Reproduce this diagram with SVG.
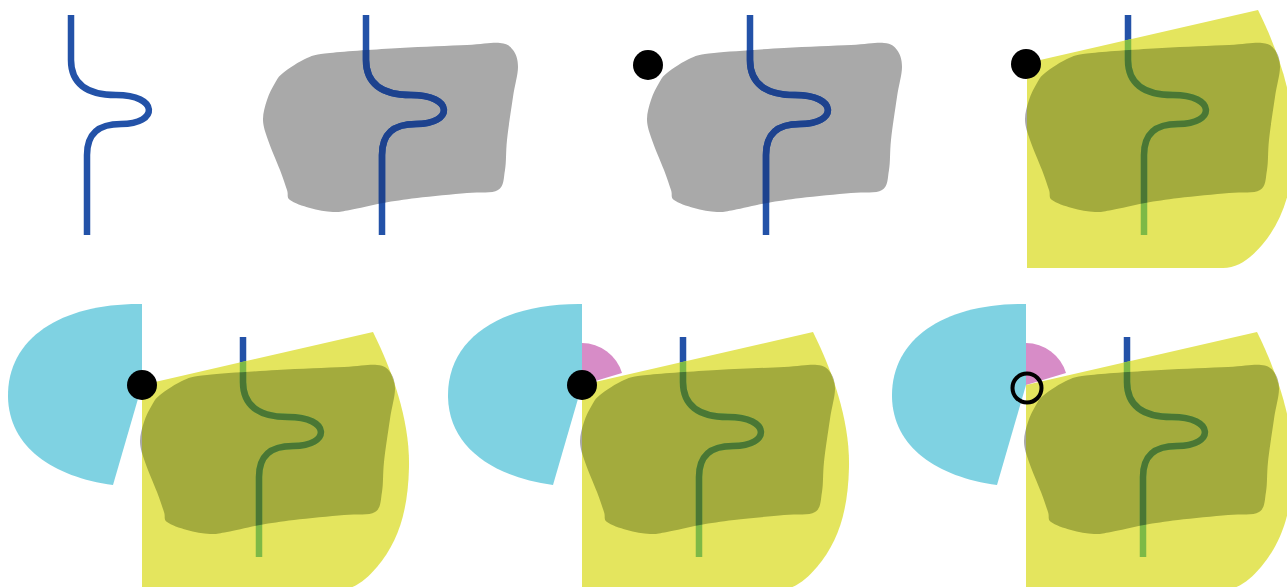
<svg xmlns="http://www.w3.org/2000/svg" xmlns:xlink="http://www.w3.org/1999/xlink" width="1287" height="587" viewBox="0 0 1287 587">
<style>
.line{fill:none;stroke-width:6.5}
.blue{stroke:#2352a8}
.dblue{stroke:#1d428e}
.lgreen{stroke:#7db946}
.dgreen{stroke:#4a7734}
.gray{fill:#a9a9a9}
.olive{fill:#a3ab3d}
.yel{fill:#e4e55e}
.cyan{fill:#7fd2e2}
.pink{fill:#d78cc7}
.dot{fill:#000}
.ring{fill:none;stroke:#000;stroke-width:4}
</style>
<defs>
<path id="ln" d="M0,0 V45 C0,68 15,80 45,80 C88,80 88,109 50,109 C28,109 16,118 16,140 V220"/>
<path id="blob" d="M-91,68 C-88.3,63.5 -88.3,62.2 -83,58 C-77.7,53.8 -66.8,46.3 -59,43 C-51.2,39.7 -51.5,39.7 -36,38 C-20.5,36.3 11.2,34.3 34,33 C56.8,31.7 84.3,30.8 101,30 C117.7,29.2 126.3,27.2 134,28 C141.7,28.8 144,31 147,35 C150,39 152,44.2 152,52 C152,59.8 148.8,69.8 147,82 C145.2,94.2 142.3,112.8 141,125 C139.7,137.2 140.5,146.7 139,155 C137.5,163.3 138.3,171.2 132,175 C125.7,178.8 114.5,176.7 101,178 C87.5,179.3 65,181.3 51,183 C37,184.7 28.2,186 17,188 C5.8,190 -7.7,193.5 -16,195 C-24.3,196.5 -26.3,197.3 -33,197 C-39.7,196.7 -48.8,195 -56,193 C-63.2,191 -72.2,188 -76,185 C-79.8,182 -77.3,180 -79,175 C-80.7,170 -82.8,163.3 -86,155 C-89.2,146.7 -95.2,133.3 -98,125 C-100.8,116.7 -102.8,111.7 -103,105 C-103.2,98.3 -101,91.2 -99,85 C-97,78.8 -93.7,72.5 -91,68 Z"/>
<path id="fov" d="M-101,48 L130,-5 C150,35 167,85 166,130 C165,175 155,205 134,230 C122,244 110,253 95,253 L-101,253 Z"/>
<path id="cyanw" d="M-101,48 L-101,-33 C-180,-34 -236,0 -235,60 C-234,110 -190,140 -130,148 Z"/>
<path id="pinkw" d="M-101,48 L-101,6 A42,42 0 0 1 -61,36 Z"/>
<clipPath id="cBlob"><use xlink:href="#blob"/></clipPath>
<clipPath id="cFov"><use xlink:href="#fov"/></clipPath>
</defs>

<g id="panel1" transform="translate(71,15)">
<use xlink:href="#ln" class="line blue"/>
</g>

<g id="panel2" transform="translate(366,15)">
<use xlink:href="#blob" class="gray"/>
<use xlink:href="#ln" class="line blue"/>
<g clip-path="url(#cBlob)"><use xlink:href="#ln" class="line dblue"/></g>
</g>

<g id="panel3" transform="translate(750,15)">
<use xlink:href="#blob" class="gray"/>
<use xlink:href="#ln" class="line blue"/>
<g clip-path="url(#cBlob)"><use xlink:href="#ln" class="line dblue"/></g>
<circle class="dot" cx="-102" cy="50" r="15"/>
</g>

<g id="panel4" transform="translate(1128,15)">
<use xlink:href="#blob" class="gray"/>
<use xlink:href="#ln" class="line blue"/>
<use xlink:href="#fov" class="yel"/>
<g clip-path="url(#cFov)"><use xlink:href="#blob" class="olive"/><use xlink:href="#ln" class="line lgreen"/></g>
<g clip-path="url(#cFov)"><g clip-path="url(#cBlob)"><use xlink:href="#ln" class="line dgreen"/></g></g>
<circle class="dot" cx="-102" cy="49" r="15"/>
</g>

<g id="panel5" transform="translate(243,337)">
<use xlink:href="#cyanw" class="cyan"/>
<use xlink:href="#blob" class="gray"/>
<use xlink:href="#ln" class="line blue"/>
<use xlink:href="#fov" class="yel"/>
<g clip-path="url(#cFov)"><use xlink:href="#blob" class="olive"/><use xlink:href="#ln" class="line lgreen"/></g>
<g clip-path="url(#cFov)"><g clip-path="url(#cBlob)"><use xlink:href="#ln" class="line dgreen"/></g></g>
<circle class="dot" cx="-101" cy="48" r="15"/>
</g>

<g id="panel6" transform="translate(683,337)">
<use xlink:href="#cyanw" class="cyan"/>
<use xlink:href="#pinkw" class="pink"/>
<use xlink:href="#blob" class="gray"/>
<use xlink:href="#ln" class="line blue"/>
<use xlink:href="#fov" class="yel"/>
<g clip-path="url(#cFov)"><use xlink:href="#blob" class="olive"/><use xlink:href="#ln" class="line lgreen"/></g>
<g clip-path="url(#cFov)"><g clip-path="url(#cBlob)"><use xlink:href="#ln" class="line dgreen"/></g></g>
<circle class="dot" cx="-101" cy="48" r="15"/>
</g>

<g id="panel7" transform="translate(1127,337)">
<use xlink:href="#cyanw" class="cyan"/>
<use xlink:href="#pinkw" class="pink"/>
<use xlink:href="#blob" class="gray"/>
<use xlink:href="#ln" class="line blue"/>
<use xlink:href="#fov" class="yel"/>
<g clip-path="url(#cFov)"><use xlink:href="#blob" class="olive"/><use xlink:href="#ln" class="line lgreen"/></g>
<g clip-path="url(#cFov)"><g clip-path="url(#cBlob)"><use xlink:href="#ln" class="line dgreen"/></g></g>
<circle class="ring" cx="-100" cy="51" r="14.5"/>
</g>
</svg>
